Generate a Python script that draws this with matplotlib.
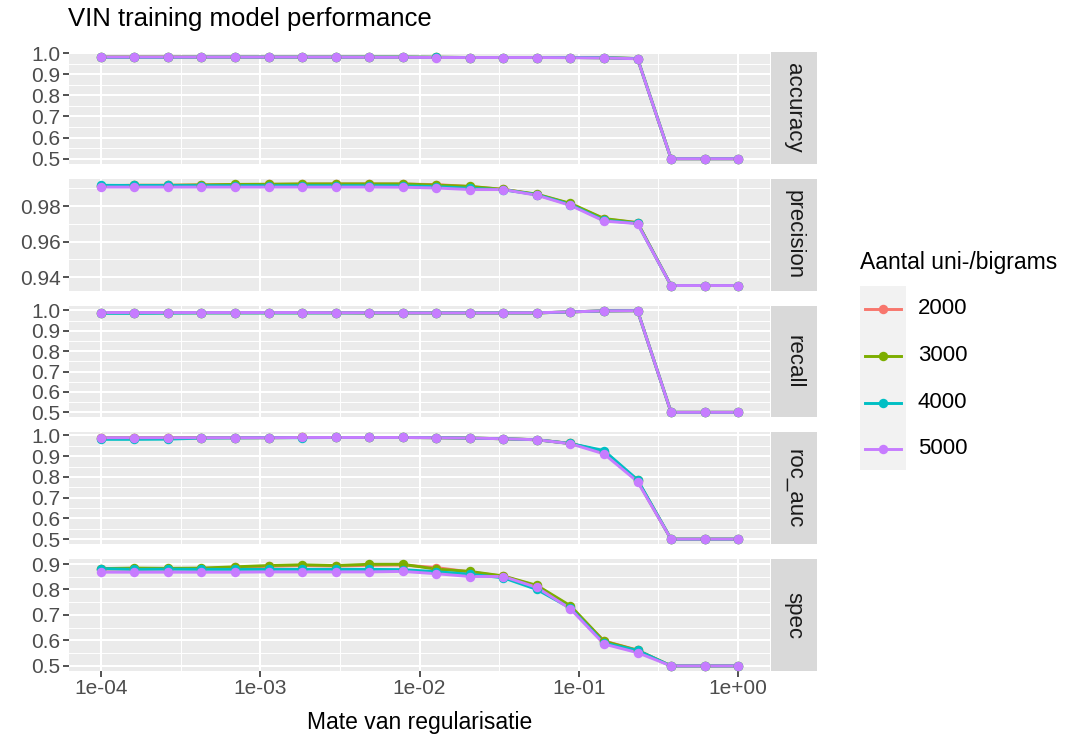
import matplotlib
matplotlib.use('Agg')
import matplotlib.pyplot as plt
import numpy as np

plt.rcParams['font.family'] = ['Liberation Sans', 'DejaVu Sans']

# regularisation strengths (20 log-spaced values from 1e-4 to 1)
reg = [1.000e-04, 1.624e-04, 2.637e-04, 4.281e-04, 6.952e-04,
       1.129e-03, 1.833e-03, 2.976e-03, 4.833e-03, 7.848e-03,
       1.274e-02, 2.069e-02, 3.360e-02, 5.456e-02, 8.859e-02,
       1.438e-01, 2.336e-01, 3.793e-01, 6.158e-01, 1.000e+00]

sizes = ['2000', '3000', '4000', '5000']
colors = ['#F8766D', '#7CAE00', '#00BFC4', '#C77CFF']
metrics = ['accuracy', 'precision', 'recall', 'roc_auc', 'spec']

accuracy = {
    '2000': [0.981, 0.981, 0.981, 0.981, 0.981, 0.981, 0.981, 0.981, 0.981, 0.981,
             0.980, 0.979, 0.979, 0.979, 0.979, 0.978, 0.974, 0.5, 0.5, 0.5],
    '3000': [0.981, 0.981, 0.981, 0.981, 0.981, 0.981, 0.981, 0.981, 0.981, 0.981,
             0.980, 0.979, 0.979, 0.979, 0.979, 0.978, 0.974, 0.5, 0.5, 0.5],
    '4000': [0.980, 0.980, 0.980, 0.981, 0.981, 0.981, 0.981, 0.981, 0.981, 0.981,
             0.980, 0.979, 0.979, 0.979, 0.979, 0.978, 0.974, 0.5, 0.5, 0.5],
    '5000': [0.981, 0.981, 0.981, 0.981, 0.981, 0.981, 0.981, 0.981, 0.980, 0.980,
             0.979, 0.979, 0.979, 0.979, 0.978, 0.977, 0.973, 0.5, 0.5, 0.5],
}
precision = {
    '2000': [0.9915, 0.9917, 0.9917, 0.9919, 0.9921, 0.9922, 0.9923, 0.9924, 0.9924, 0.9924,
             0.9921, 0.9910, 0.9894, 0.9865, 0.9813, 0.9728, 0.9706, 0.9353, 0.9353, 0.9353],
    '3000': [0.9914, 0.9917, 0.9917, 0.9919, 0.9922, 0.9923, 0.9925, 0.9925, 0.9925, 0.9925,
             0.9918, 0.9911, 0.9894, 0.9867, 0.9815, 0.9730, 0.9707, 0.9353, 0.9353, 0.9353],
    '4000': [0.9917, 0.9916, 0.9916, 0.9915, 0.9915, 0.9915, 0.9915, 0.9915, 0.9915, 0.9914,
             0.9910, 0.9900, 0.9892, 0.9864, 0.9808, 0.9720, 0.9703, 0.9353, 0.9353, 0.9353],
    '5000': [0.9907, 0.9907, 0.9907, 0.9907, 0.9907, 0.9907, 0.9907, 0.9907, 0.9907, 0.9906,
             0.9902, 0.9893, 0.9893, 0.9861, 0.9804, 0.9716, 0.9701, 0.9353, 0.9353, 0.9353],
}
recall = {
    '2000': [0.989, 0.989, 0.989, 0.989, 0.989, 0.989, 0.989, 0.989, 0.988, 0.988,
             0.988, 0.988, 0.988, 0.988, 0.993, 0.998, 0.999, 0.5, 0.5, 0.5],
    '3000': [0.989, 0.989, 0.989, 0.989, 0.989, 0.989, 0.989, 0.989, 0.988, 0.988,
             0.988, 0.988, 0.988, 0.988, 0.993, 0.998, 0.999, 0.5, 0.5, 0.5],
    '4000': [0.986, 0.986, 0.987, 0.988, 0.988, 0.988, 0.988, 0.988, 0.988, 0.988,
             0.988, 0.988, 0.988, 0.988, 0.993, 0.998, 0.999, 0.5, 0.5, 0.5],
    '5000': [0.990, 0.990, 0.990, 0.990, 0.990, 0.990, 0.990, 0.989, 0.989, 0.988,
             0.988, 0.988, 0.988, 0.989, 0.993, 0.998, 0.999, 0.5, 0.5, 0.5],
}
roc_auc = {
    '2000': [0.988, 0.988, 0.988, 0.989, 0.989, 0.989, 0.990, 0.990, 0.990, 0.990,
             0.989, 0.987, 0.984, 0.979, 0.961, 0.920, 0.782, 0.5, 0.5, 0.5],
    '3000': [0.988, 0.988, 0.988, 0.989, 0.989, 0.989, 0.990, 0.990, 0.990, 0.990,
             0.989, 0.987, 0.984, 0.979, 0.961, 0.922, 0.783, 0.5, 0.5, 0.5],
    '4000': [0.981, 0.981, 0.982, 0.987, 0.988, 0.989, 0.989, 0.990, 0.990, 0.990,
             0.989, 0.987, 0.984, 0.979, 0.961, 0.927, 0.786, 0.5, 0.5, 0.5],
    '5000': [0.989, 0.989, 0.989, 0.989, 0.989, 0.989, 0.990, 0.990, 0.990, 0.990,
             0.989, 0.987, 0.984, 0.979, 0.960, 0.911, 0.777, 0.5, 0.5, 0.5],
}
spec = {
    '2000': [0.880, 0.881, 0.881, 0.882, 0.887, 0.891, 0.894, 0.892, 0.895, 0.896,
             0.886, 0.869, 0.852, 0.813, 0.733, 0.598, 0.562, 0.5, 0.5, 0.5],
    '3000': [0.882, 0.884, 0.883, 0.884, 0.889, 0.894, 0.897, 0.894, 0.899, 0.899,
             0.880, 0.871, 0.853, 0.816, 0.736, 0.597, 0.561, 0.5, 0.5, 0.5],
    '4000': [0.882, 0.879, 0.880, 0.879, 0.879, 0.879, 0.879, 0.879, 0.879, 0.878,
             0.870, 0.860, 0.846, 0.800, 0.727, 0.590, 0.561, 0.5, 0.5, 0.5],
    '5000': [0.868, 0.868, 0.868, 0.868, 0.868, 0.869, 0.869, 0.869, 0.869, 0.871,
             0.862, 0.851, 0.851, 0.808, 0.724, 0.586, 0.552, 0.5, 0.5, 0.5],
}
data = {'accuracy': accuracy, 'precision': precision, 'recall': recall,
        'roc_auc': roc_auc, 'spec': spec}

yticks = {
    'accuracy': [0.5, 0.6, 0.7, 0.8, 0.9, 1.0],
    'precision': [0.94, 0.96, 0.98],
    'recall': [0.5, 0.6, 0.7, 0.8, 0.9, 1.0],
    'roc_auc': [0.5, 0.6, 0.7, 0.8, 0.9, 1.0],
    'spec': [0.5, 0.6, 0.7, 0.8, 0.9],
}
xticks = [1e-4, 1e-3, 1e-2, 1e-1, 1e0]
xticklabels = ['1e-04', '1e-03', '1e-02', '1e-01', '1e+00']

W, H = 1071, 745
fig = plt.figure(figsize=(W / 100, H / 100), dpi=100)


def px_axes(x0, y0, w, h):
    return fig.add_axes([x0 / W, 1 - (y0 + h) / H, w / W, h / H])


panel_left, panel_right = 69, 770
panel_top, panel_h, gap = 52, 111.8, 15
strip_w = 46
tick_color = '#4D4D4D'

for k, m in enumerate(metrics):
    top = panel_top + k * (panel_h + gap)
    ax = px_axes(panel_left, top, panel_right - panel_left, panel_h)
    ax.set_facecolor('#EBEBEB')
    for s in ax.spines.values():
        s.set_visible(False)
    ax.set_xscale('log')
    ax.set_xlim(10 ** -4.2, 10 ** 0.2)
    vals = np.concatenate([data[m][s] for s in sizes])
    lo, hi = vals.min(), vals.max()
    pad = (hi - lo) * 0.05
    ax.set_ylim(lo - pad, hi + pad)

    # grid: major + minor (midpoints)
    yt = yticks[m]
    step = yt[1] - yt[0]
    yminor = [v + step / 2 for v in [yt[0] - step] + yt]
    for v in yminor:
        ax.axhline(v, color='white', lw=0.7, zorder=0)
    for v in yt:
        ax.axhline(v, color='white', lw=1.5, zorder=0)
    for e in [-3.5, -2.5, -1.5, -0.5]:
        ax.axvline(10 ** e, color='white', lw=0.7, zorder=0)
    for v in xticks:
        ax.axvline(v, color='white', lw=1.5, zorder=0)

    for s, c in zip(sizes, colors):
        ax.plot(reg, data[m][s], color=c, lw=2.1, zorder=2, solid_capstyle='round')
    for s, c in zip(sizes, colors):
        ax.plot(reg, data[m][s], 'o', color=c, ms=6.8, mew=0, zorder=3)

    ax.set_yticks(yt)
    ax.set_yticklabels([('%.2f' % v) if m == 'precision' else ('%.1f' % v) for v in yt])
    ax.minorticks_off()
    ax.set_xticks(xticks)
    ax.tick_params(axis='both', colors='#333333', labelcolor=tick_color,
                   labelsize=15, length=4, width=1.2, pad=2)
    if k == len(metrics) - 1:
        ax.set_xticklabels(xticklabels)
        ax.set_xlabel('Mate van regularisatie', fontsize=16.5, color='black', labelpad=9)
    else:
        ax.set_xticklabels([])
        ax.tick_params(axis='x', length=0)

    sax = px_axes(panel_right + 1, top, strip_w, panel_h)
    sax.set_facecolor('#D9D9D9')
    sax.set_xticks([])
    sax.set_yticks([])
    for sp in sax.spines.values():
        sp.set_visible(False)
    sax.text(0.5, 0.5, m, rotation=270, ha='center', va='center',
             fontsize=16, color='#1A1A1A', transform=sax.transAxes)

fig.text(68 / W, 1 - 19 / H, 'VIN training model performance', fontsize=18.5,
         ha='left', va='center', color='black')

# legend
lax = px_axes(850, 240, 221, 240)
lax.set_xlim(850, 1071)
lax.set_ylim(480, 240)
lax.axis('off')
lax.add_patch(plt.Rectangle((860, 286), 46, 184, color='#F2F2F2', lw=0))
lax.text(860, 263, 'Aantal uni-/bigrams', fontsize=16.5, va='center', ha='left')
key_y = [309, 356, 403, 449]
for s, c, ky in zip(sizes, colors, key_y):
    lax.plot([865, 901], [ky, ky], color=c, lw=2.1)
    lax.plot([883], [ky], 'o', color=c, ms=6.8, mew=0)
    lax.text(918, ky, s, fontsize=16, va='center', ha='left')

fig.savefig('out.png', dpi=100)
